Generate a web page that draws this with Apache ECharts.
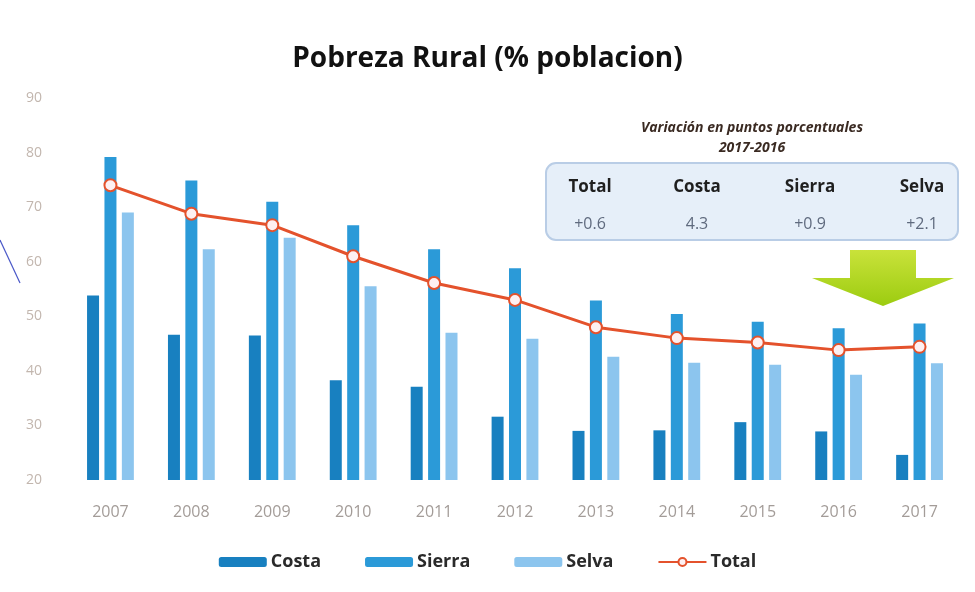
<!DOCTYPE html>
<html>
<head>
<meta charset="utf-8">
<script src="https://cdn.jsdelivr.net/npm/echarts@6/dist/echarts.min.js"></script>
<style>
  html, body { margin: 0; padding: 0; background: #fff; }
  #chart { width: 975px; height: 592px; }
</style>
</head>
<body>
<div id="chart"></div>
<script>
const years = ['2007', '2008', '2009', '2010', '2011', '2012', '2013', '2014', '2015', '2016', '2017'];
const costa = [53.8, 46.6, 46.5, 38.3, 37.1, 31.6, 29.0, 29.1, 30.6, 28.9, 24.6];
const sierra = [79.2, 74.9, 71.0, 66.7, 62.3, 58.8, 52.9, 50.4, 49.0, 47.8, 48.7];
const selva = [69.0, 62.3, 64.4, 55.5, 47.0, 45.9, 42.6, 41.5, 41.1, 39.3, 41.4];
const total = [74.0, 68.8, 66.7, 61.0, 56.1, 53.0, 48.0, 46.0, 45.2, 43.8, 44.4];

const boxHeads = ['Total', 'Costa', 'Sierra', 'Selva'];
const boxValues = ['+0.6', '4.3', '+0.9', '+2.1'];

const font = '"Open Sans", "Noto Sans", sans-serif';
const chart = echarts.init(document.getElementById('chart'));

// recuadro de variacion 2017-2016
const boxX = [590, 697, 810, 922];
const boxText = [];
boxHeads.forEach((h, i) => {
    boxText.push({
        type: 'text', x: boxX[i], y: 187, z: 10,
        style: { text: h, font: 'bold 17px ' + font, fill: '#1f1f1f', align: 'center', verticalAlign: 'middle' }
    });
    boxText.push({
        type: 'text', x: boxX[i], y: 224, z: 10,
        style: { text: boxValues[i], font: '16px ' + font, fill: '#5f6a7e', align: 'center', verticalAlign: 'middle' }
    });
});

const option = {
    animation: false,
    title: {
        text: 'Pobreza Rural (% poblacion)',
        left: 'center',
        top: 40,
        textStyle: { fontFamily: font, fontSize: 28, fontWeight: 'bold', color: '#111' }
    },
    grid: { left: 70, right: 15, top: 98, bottom: 112 },
    legend: {
        bottom: 16,
        left: 'center',
        itemWidth: 48,
        itemHeight: 10,
        itemGap: 44,
        textStyle: { fontFamily: font, fontSize: 18, fontWeight: 'bold', color: '#2a2a2a', padding: [0, 0, 0, -1] },
        data: ['Costa', 'Sierra', 'Selva', 'Total']
    },
    xAxis: {
        type: 'category',
        data: years,
        axisLine: { show: false },
        axisTick: { show: false },
        axisLabel: { color: '#a39c98', fontFamily: font, fontSize: 16, margin: 24 }
    },
    yAxis: {
        type: 'value',
        min: 20,
        max: 90,
        interval: 10,
        splitLine: { show: false },
        axisLine: { show: false },
        axisTick: { show: false },
        axisLabel: { color: '#c2b6ae', fontFamily: font, fontSize: 14, margin: 28 }
    },
    series: [
        { name: 'Costa', type: 'bar', data: costa, barWidth: 12, barGap: '45%', itemStyle: { color: '#1880c0' } },
        { name: 'Sierra', type: 'bar', data: sierra, barWidth: 12, barGap: '45%', itemStyle: { color: '#2b9ad8' } },
        { name: 'Selva', type: 'bar', data: selva, barWidth: 12, barGap: '45%', itemStyle: { color: '#8cc5ee' } },
        {
            name: 'Total', type: 'line', data: total,
            symbol: 'circle', symbolSize: 12,
            lineStyle: { color: '#e4522c', width: 3 },
            itemStyle: { color: '#fdf0f2', borderColor: '#e4522c', borderWidth: 2 },
            z: 5
        }
    ],
    graphic: [
        {
            type: 'text', x: 752, y: 128, z: 10,
            style: { text: 'Variación en puntos porcentuales', font: 'italic bold 14px ' + font, fill: '#3a2a22', align: 'center', verticalAlign: 'middle' }
        },
        {
            type: 'text', x: 752, y: 148, z: 10,
            style: { text: '2017-2016', font: 'italic bold 14px ' + font, fill: '#3a2a22', align: 'center', verticalAlign: 'middle' }
        },
        {
            type: 'rect', z: 1,
            shape: { x: 546, y: 163, width: 412, height: 77, r: 10 },
            style: { fill: '#e6eff9', stroke: '#b9cde6', lineWidth: 2 }
        },
        ...boxText,
        {
            type: 'polygon', z: 1,
            shape: { points: [[850, 250], [916, 250], [916, 278], [954, 278], [883, 306], [812, 278], [850, 278]] },
            style: {
                fill: new echarts.graphic.LinearGradient(0, 0, 0, 1, [
                    { offset: 0, color: '#c9e23a' },
                    { offset: 1, color: '#9ccc10' }
                ])
            }
        },
        {
            type: 'line',
            shape: { x1: 0, y1: 240, x2: 20, y2: 283 },
            style: { stroke: '#4a58c8', lineWidth: 1.2 }
        }
    ]
};

chart.setOption(option);
</script>
</body>
</html>
